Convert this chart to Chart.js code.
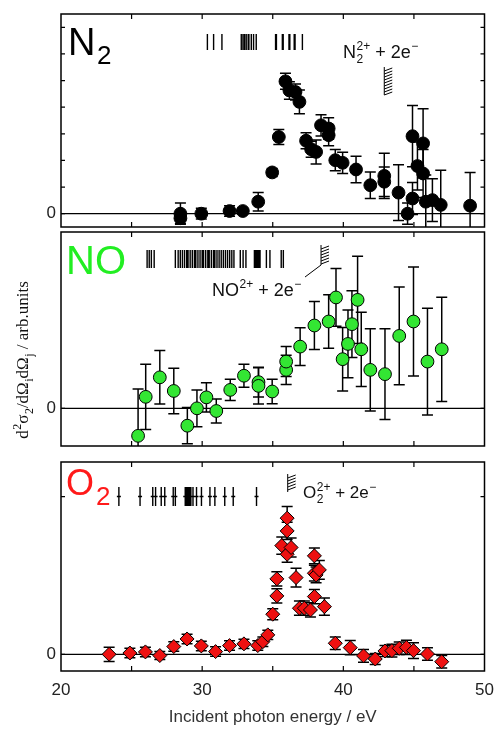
<!DOCTYPE html>
<html>
<head>
<meta charset="utf-8">
<script src="https://cdn.jsdelivr.net/npm/chart.js@4.4.0/dist/chart.umd.min.js"></script>
<style>
  html, body { margin: 0; padding: 0; background: #fff; overflow: hidden; }
  #wrap { position: relative; width: 496px; height: 731px; }
  .panel { position: absolute; left: 0; width: 496px; }
</style>
</head>
<body>
<div id="wrap">
  <div class="panel" style="top:0;height:230px"><canvas id="n2Chart"></canvas></div>
  <div class="panel" style="top:230px;height:228px"><canvas id="noChart"></canvas></div>
  <div class="panel" style="top:458px;height:273px"><canvas id="o2Chart"></canvas></div>
</div>
<script>
// x axis
const xMin = 20, xMax = 50;
const xTickLabels = [20, 30, 40, 50];

// N2 panel
const n2Energy = [28.46, 28.46, 29.94, 31.94, 32.88, 33.97, 34.96, 35.43, 35.9, 36.18, 36.61, 36.89, 37.36, 37.72, 38.07, 38.42, 38.96, 38.96, 39.43, 39.95, 40.9, 41.91, 42.9, 42.9, 43.91, 44.55, 44.9, 44.9, 45.25, 45.65, 45.65, 45.84, 46.31, 46.9, 48.98];
const n2Signal = [0.0, -0.17, 0.0, 0.1, 0.1, 0.45, 1.55, 2.88, 4.97, 4.63, 4.57, 4.2, 2.74, 2.42, 2.32, 3.32, 3.2, 2.95, 2.01, 1.91, 1.66, 1.07, 1.42, 1.2, 0.79, 0.0, 0.57, 2.91, 1.79, 2.64, 1.51, 0.45, 0.51, 0.33, 0.3];
const n2Error = [0.4, 0.2, 0.2, 0.2, 0.1, 0.35, 0.15, 0.28, 0.3, 0.33, 0.3, 0.45, 0.3, 0.3, 0.45, 0.4, 0.4, 0.4, 0.4, 0.4, 0.5, 0.5, 0.85, 0.55, 1.05, 0.4, 0.6, 1.15, 0.9, 1.3, 0.9, 1.0, 0.8, 1.3, 1.25];
const n2Levels = [30.37, 30.81, 31.4, 32.77, 32.89, 33.0, 33.12, 33.26, 33.31, 33.48, 33.64, 33.83, 35.2, 35.26, 35.68, 35.74, 36.15, 36.21, 36.52, 36.58, 37.1];
const n2Threshold = 42.9;
const n2YTicks = [0, 1, 2, 3, 4, 5, 6, 7];

// NO panel
const noEnergy = [25.46, 26.0, 27.0, 27.99, 28.95, 29.63, 30.3, 31.0, 31.99, 32.96, 33.99, 33.99, 34.96, 35.95, 35.95, 36.94, 37.95, 38.96, 39.48, 39.95, 40.33, 40.61, 41.01, 41.27, 41.91, 42.95, 43.96, 44.97, 45.96, 46.97];
const noSignal = [-1.03, 0.43, 1.16, 0.65, -0.65, 0.0, 0.41, -0.1, 0.69, 1.22, 0.98, 0.84, 0.63, 1.44, 1.75, 2.31, 3.1, 3.25, 4.15, 1.84, 2.41, 3.15, 4.06, 2.21, 1.44, 1.28, 2.71, 3.25, 1.75, 2.21];
const noError = [1.75, 1.22, 1.0, 0.85, 0.68, 0.69, 0.55, 0.45, 0.4, 0.43, 0.56, 0.68, 0.46, 0.55, 0.56, 0.71, 0.9, 1.0, 1.08, 1.19, 1.27, 1.25, 1.63, 1.39, 1.54, 1.7, 1.83, 2.04, 2.0, 1.95];
const noLevels = [26.1, 26.25, 26.4, 26.6, 28.1, 28.3, 28.45, 28.6, 28.75, 28.9, 29.0, 29.15, 29.3, 29.45, 29.55, 29.7, 29.85, 30.0, 30.1, 30.25, 30.4, 30.5, 30.65, 30.8, 30.9, 31.05, 31.2, 31.35, 31.5, 31.65, 31.8, 31.95, 32.1, 32.25, 32.7, 32.9, 33.1, 33.7, 33.8, 33.9, 34.0, 34.1, 34.55, 34.8, 35.6, 35.75];
const noThreshold = 38.42;
const noYTicks = [0];

// O2 panel
const o2Energy = [23.41, 24.88, 25.98, 27.0, 27.99, 28.93, 29.94, 30.95, 31.94, 32.96, 33.94, 34.3, 34.65, 35.0, 35.29, 35.29, 35.64, 36.02, 36.02, 36.02, 36.3, 36.65, 36.89, 37.24, 37.67, 37.95, 37.95, 38.07, 38.3, 37.95, 38.66, 39.43, 40.49, 41.43, 42.26, 42.95, 43.44, 43.96, 44.47, 44.97, 45.96, 46.97];
const o2Signal = [0.0, 0.08, 0.15, -0.08, 0.49, 0.97, 0.53, 0.17, 0.55, 0.66, 0.55, 0.8, 1.23, 2.54, 3.7, 4.78, 6.89, 8.63, 7.82, 6.34, 6.77, 4.86, 2.92, 2.92, 2.81, 6.24, 5.14, 5.03, 5.35, 3.66, 3.02, 0.7, 0.42, -0.1, -0.3, 0.21, 0.23, 0.38, 0.44, 0.23, 0.02, -0.47];
const o2Error = [0.45, 0.3, 0.3, 0.25, 0.3, 0.3, 0.3, 0.3, 0.3, 0.3, 0.3, 0.3, 0.3, 0.35, 0.45, 0.45, 0.55, 0.74, 0.55, 0.5, 0.6, 0.6, 0.45, 0.45, 0.45, 0.5, 0.5, 0.5, 0.6, 0.45, 0.55, 0.4, 0.45, 0.4, 0.35, 0.35, 0.4, 0.4, 0.45, 0.5, 0.4, 0.4];
const o2Levels = [24.1, 25.6, 26.5, 26.7, 27.1, 27.35, 27.95, 28.1, 28.8, 28.9, 29.0, 29.1, 29.2, 29.35, 29.6, 29.95, 30.55, 30.9, 31.6, 32.2, 33.85];
const o2Threshold = 36.06;
const o2YTicks = [0, 10];

const SANS = '"Liberation Sans", Arial, sans-serif';
const SERIF = '"Liberation Serif", "DejaVu Serif", serif';

// draws text with sub/superscripts, returns width
function drawRich(ctx, parts, x, y, size, family, color, dryRun) {
  let cx = x;
  ctx.fillStyle = color;
  ctx.textBaseline = 'alphabetic';
  ctx.textAlign = 'left';
  parts.forEach((p) => {
    ctx.font = size + 'px ' + family;
    const w = ctx.measureText(p.t).width;
    if (!dryRun) ctx.fillText(p.t, cx, y);
    cx += w;
    const small = Math.round(size * 0.68);
    ctx.font = small + 'px ' + family;
    let extra = 0;
    if (p.sub) {
      if (!dryRun) ctx.fillText(p.sub, cx + 0.5, y + size * 0.3);
      extra = Math.max(extra, ctx.measureText(p.sub).width + 0.5);
    }
    if (p.sup) {
      if (!dryRun) ctx.fillText(p.sup, cx + 0.5, y - size * 0.42);
      extra = Math.max(extra, ctx.measureText(p.sup).width + 0.5);
    }
    cx += extra;
  });
  return cx - x;
}

function panelDecor(opts) {
  return {
    id: 'panelDecor',
    beforeDatasetsDraw(chart) {
      const { ctx, chartArea: a, scales: { x, y } } = chart;
      ctx.save();
      ctx.beginPath();
      ctx.rect(a.left, a.top, a.right - a.left, a.bottom - a.top);
      ctx.clip();
      ctx.strokeStyle = '#000';
      ctx.lineWidth = 1.2;
      const y0 = y.getPixelForValue(0);
      ctx.beginPath();
      ctx.moveTo(a.left, y0);
      ctx.lineTo(a.right, y0);
      ctx.stroke();
      // error bars
      ctx.lineWidth = 1.5;
      opts.energy.forEach((e, i) => {
        const px = x.getPixelForValue(e);
        const top = y.getPixelForValue(opts.signal[i] + opts.error[i]);
        const bot = y.getPixelForValue(opts.signal[i] - opts.error[i]);
        ctx.beginPath();
        ctx.moveTo(px, top); ctx.lineTo(px, bot);
        ctx.moveTo(px - 5.5, top); ctx.lineTo(px + 5.5, top);
        ctx.moveTo(px - 5.5, bot); ctx.lineTo(px + 5.5, bot);
        ctx.stroke();
      });
      ctx.restore();
    },
    afterDatasetsDraw(chart) {
      const { ctx, chartArea: a, scales: { x, y } } = chart;
      ctx.save();
      ctx.strokeStyle = '#000';
      // inward ticks
      ctx.lineWidth = 1.2;
      ctx.beginPath();
      for (let v = 25; v < xMax; v += 5) {
        const px = x.getPixelForValue(v);
        ctx.moveTo(px, a.top); ctx.lineTo(px, a.top + 5);
        ctx.moveTo(px, a.bottom); ctx.lineTo(px, a.bottom - 5);
      }
      opts.yTicks.forEach((v) => {
        const py = y.getPixelForValue(v);
        ctx.moveTo(a.left, py); ctx.lineTo(a.left + 4, py);
        ctx.moveTo(a.right, py); ctx.lineTo(a.right - 4, py);
      });
      ctx.stroke();
      // frame
      ctx.lineWidth = 1.5;
      ctx.strokeRect(a.left, a.top, a.right - a.left, a.bottom - a.top);

      // energy level bars
      ctx.lineWidth = 1.4;
      ctx.beginPath();
      opts.levels.forEach((e) => {
        const px = x.getPixelForValue(e);
        ctx.moveTo(px, opts.levelTop); ctx.lineTo(px, opts.levelBottom);
        if (opts.levelDash) {
          const m = (opts.levelTop + opts.levelBottom) / 2;
          ctx.moveTo(px - 2, m); ctx.lineTo(px + 2, m);
        }
      });
      ctx.stroke();

      // double ionisation threshold with hatching
      const tx = x.getPixelForValue(opts.threshold);
      ctx.lineWidth = 1;
      ctx.beginPath();
      ctx.moveTo(tx, opts.thrTop); ctx.lineTo(tx, opts.thrBottom);
      for (let yy = opts.thrTop + 1; yy < opts.thrBottom - 2; yy += 3) {
        ctx.moveTo(tx, yy + 3); ctx.lineTo(tx + 8, yy);
      }
      if (opts.leader) {
        ctx.moveTo(tx, opts.thrBottom); ctx.lineTo(tx + opts.leader[0], opts.thrBottom + opts.leader[1]);
      }
      ctx.stroke();
      drawRich(ctx, opts.thrLabel, opts.thrLabelX, opts.thrLabelY, opts.thrLabelSize, SANS, '#111');

      // panel name
      opts.name(ctx);
      if (opts.after) opts.after(ctx, chart);
      ctx.restore();
    }
  };
}

function makeChart(id, cfg) {
  const points = cfg.energy.map((e, i) => ({ x: e, y: cfg.signal[i] }));
  return new Chart(document.getElementById(id), {
    type: 'scatter',
    data: {
      datasets: [{
        data: points,
        pointStyle: cfg.pointStyle,
        pointRadius: cfg.radius,
        pointHoverRadius: cfg.radius,
        pointBackgroundColor: cfg.fill,
        pointBorderColor: '#000',
        pointBorderWidth: 1,
      }],
    },
    options: {
      responsive: true,
      maintainAspectRatio: false,
      animation: false,
      events: [],
      layout: { autoPadding: false, padding: { top: cfg.padTop, bottom: cfg.padBottom, right: 11.5, left: 0 } },
      plugins: { legend: { display: false }, tooltip: { enabled: false } },
      scales: {
        x: {
          type: 'linear',
          min: xMin,
          max: xMax,
          display: cfg.showX,
          grid: { display: false, drawTicks: false },
          border: { display: false },
          afterBuildTicks: (s) => { s.ticks = xTickLabels.map((v) => ({ value: v })); },
          afterFit: cfg.showX ? (s) => { s.height = 60; s.paddingLeft = 0; s.paddingRight = 0; } : undefined,
          ticks: { padding: 9, color: '#222', font: { family: SANS, size: 17 } },
          title: {
            display: cfg.showX,
            text: 'Incident photon energy / eV',
            color: '#333',
            font: { family: SANS, size: 17 },
            padding: { top: 4, bottom: 3 },
          },
        },
        y: {
          min: cfg.yMin,
          max: cfg.yMax,
          grid: { display: false, drawTicks: false },
          border: { display: false },
          afterBuildTicks: (s) => { s.ticks = [{ value: 0 }]; },
          afterFit: (s) => { s.width = 61; s.paddingTop = 0; s.paddingBottom = 0; },
          ticks: { padding: 5, color: '#222', font: { family: SANS, size: 17 }, callback: () => '0' },
        },
      },
    },
    plugins: [panelDecor(cfg)],
  });
}

document.addEventListener('DOMContentLoaded', () => {
  makeChart('n2Chart', {
    energy: n2Energy, signal: n2Signal, error: n2Error, levels: n2Levels, threshold: n2Threshold,
    yTicks: n2YTicks, yMin: -0.5, yMax: 7.5, padTop: 14, padBottom: 3, showX: false,
    pointStyle: 'circle', radius: 6.4, fill: '#000',
    levelTop: 34, levelBottom: 50,
    thrTop: 67, thrBottom: 95,
    thrLabel: [{ t: 'N', sub: '2', sup: '2+' }, { t: ' + 2e', sup: '\u2212' }],
    thrLabelX: 343, thrLabelY: 58, thrLabelSize: 18,
    name: (ctx) => {
      ctx.fillStyle = '#000';
      ctx.font = '38px ' + SANS;
      ctx.fillText('N', 68, 55);
      ctx.font = '26px ' + SANS;
      ctx.fillText('2', 97, 64);
    },
  });

  makeChart('noChart', {
    energy: noEnergy, signal: noSignal, error: noError, levels: noLevels, threshold: noThreshold,
    yTicks: noYTicks, yMin: -1.41, yMax: 6.6, padTop: 2, padBottom: 12, showX: false,
    pointStyle: 'circle', radius: 6.4, fill: '#33e633',
    levelTop: 20, levelBottom: 38,
    thrTop: 15, thrBottom: 35, leader: [-16, 12],
    thrLabel: [{ t: 'NO', sup: '2+' }, { t: ' + 2e', sup: '\u2212' }],
    thrLabelX: 212, thrLabelY: 66, thrLabelSize: 18,
    name: (ctx) => {
      ctx.fillStyle = '#22ee22';
      ctx.font = '40px ' + SANS;
      ctx.fillText('NO', 66, 44);
    },
    after: (ctx) => {
      // vertical axis title
      ctx.save();
      ctx.translate(22, 130);
      ctx.rotate(-Math.PI / 2);
      const parts = [{ t: 'd', sup: '2' }, { t: '\u03c3', sub: '2' }, { t: '/d\u03a9', sub: 'i' }, { t: 'd\u03a9', sub: 'j' }, { t: ' / arb.units' }];
      const w = drawRich(ctx, parts, 0, 0, 17, SERIF, '#111', true);
      drawRich(ctx, parts, -w / 2, 6, 17, SERIF, '#111');
      ctx.restore();
    },
  });

  makeChart('o2Chart', {
    energy: o2Energy, signal: o2Signal, error: o2Error, levels: o2Levels, threshold: o2Threshold,
    yTicks: o2YTicks, yMin: -1.06, yMax: 12.19, padTop: 4, padBottom: 0, showX: true,
    pointStyle: 'rectRot', radius: 7, fill: '#ee1111',
    levelTop: 29, levelBottom: 48, levelDash: true,
    thrTop: 16, thrBottom: 34,
    thrLabel: [{ t: 'O', sub: '2', sup: '2+' }, { t: ' + 2e', sup: '\u2212' }],
    thrLabelX: 303, thrLabelY: 40, thrLabelSize: 17,
    name: (ctx) => {
      ctx.fillStyle = '#ff1a1a';
      ctx.font = '36px ' + SANS;
      ctx.fillText('O', 66, 37);
      ctx.font = '26px ' + SANS;
      ctx.fillText('2', 96, 47);
    },
  });
});
</script>
</body>
</html>
